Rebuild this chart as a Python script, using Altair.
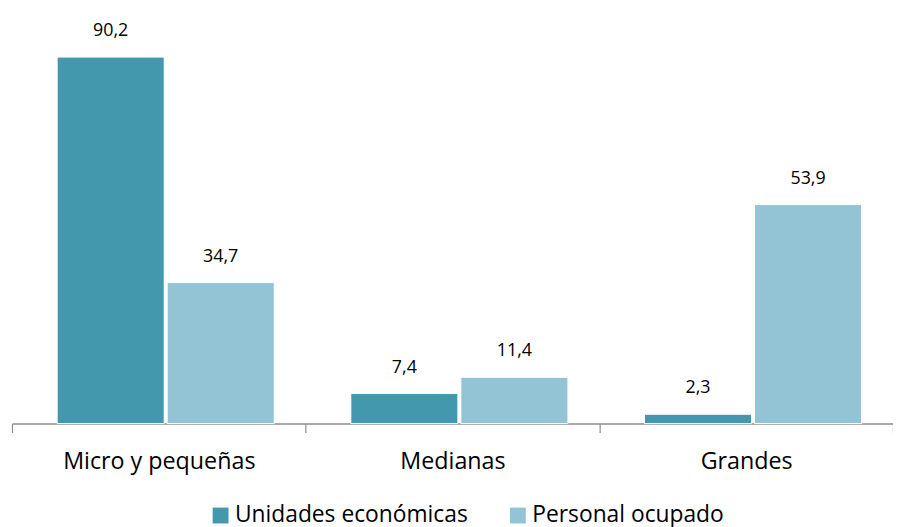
import altair as alt
import pandas as pd

categorias = ["Micro y pequeñas", "Medianas", "Grandes"]
series = ["Unidades económicas", "Personal ocupado"]
unidades = [90.2, 7.4, 2.3]
personal = [34.7, 11.4, 53.9]
colores = ["#4398AE", "#93C4D5"]

rows = []
for i, c in enumerate(categorias):
    for s, vals in zip(series, [unidades, personal]):
        v = vals[i]
        rows.append({"categoria": c, "serie": s, "valor": v,
                     "etiqueta": f"{v:.1f}".replace(".", ",")})
df = pd.DataFrame(rows)

FONT = "Open Sans"

x = alt.X("categoria:N", sort=categorias,
          scale=alt.Scale(paddingInner=0, paddingOuter=0),
          axis=alt.Axis(title=None, labelAngle=0, tickBand="extent",
                        domainColor="#8c8c8c", tickColor="#8c8c8c", domainWidth=1.5,
                        tickWidth=1.2, tickSize=9, labelFontSize=23.5, labelPadding=17,
                        labelLimit=500,
                        labelFont=FONT, labelColor="#000000", grid=False))
xo = alt.XOffset("serie:N", sort=series,
                 scale=alt.Scale(paddingInner=0.027, paddingOuter=0.348, align=0.59))
y = alt.Y("valor:Q", scale=alt.Scale(domain=[0, 100]), axis=None)

bars = alt.Chart(df).mark_bar(stroke="white", strokeWidth=1).encode(
    x=x, xOffset=xo, y=y,
    color=alt.Color("serie:N", sort=series,
                    scale=alt.Scale(domain=series, range=colores),
                    legend=alt.Legend(title=None, orient="none", direction="horizontal",
                                      legendX=199, legendY=491,
                                      symbolType="square", symbolSize=256,
                                      symbolStrokeWidth=0, labelFontSize=23,
                                      labelFont=FONT, labelColor="#000000",
                                      labelOffset=3, columnPadding=38,
                                      labelLimit=400))
)

text = alt.Chart(df).mark_text(baseline="alphabetic", dy=-21, fontSize=18,
                               font=FONT, color="#000000").encode(
    x=x, xOffset=xo, y=y, text="etiqueta:N"
)

chart = alt.layer(bars, text).properties(
    width=889, height=410,
    autosize=alt.AutoSizeParams(type="none"),
    padding={"left": 4, "top": 7, "right": 0, "bottom": 104},
).configure_view(stroke=None)

chart.save("out.html", embed_options={"renderer": "svg", "actions": False})
